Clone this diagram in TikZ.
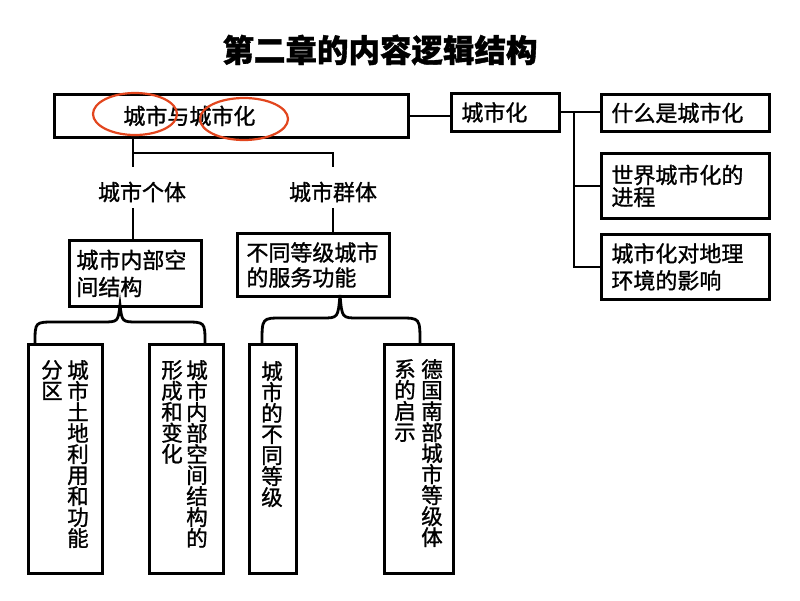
\documentclass[tikz,border=0pt]{standalone}
\usepackage{fontspec}
\setmainfont{Noto Sans CJK SC}
\newfontfamily\cjk[FakeBold=1.2]{Noto Sans CJK SC}
\definecolor{ringred}{RGB}{226,70,30}
\begin{document}
\begin{tikzpicture}[x=1pt,y=-1pt,
  box/.style={draw, line width=2.8pt, anchor=north west, align=left, inner ysep=0pt,
    font=\cjk\fontsize{22}{25}\selectfont},
  lbl/.style={inner sep=0pt, font=\cjk\fontsize{22}{25}\selectfont},
  vcol/.style={inner sep=0pt, anchor=north, align=center, font=\cjk\fontsize{21.5}{21}\selectfont},
  vbox/.style={draw, line width=2.8pt, anchor=north west, minimum height=229pt, inner sep=0pt},
  link/.style={line width=2.8pt},
  circ/.style={draw=ringred, line width=2.2pt}]
\useasboundingbox (0,0) rectangle (800,600);
% title
\node[inner sep=0pt, font=\cjk\bfseries\fontsize{31.5}{34}\selectfont] (title) at (380,50) {第二章的内容逻辑结构};
% top boxes
\node[box, text width=338pt, inner xsep=8pt, minimum height=43pt] (main) at (53,93) {\hspace*{61pt}城市与城市化};
\node[box, text width=88pt, inner xsep=10pt, minimum height=38pt] (chz) at (450,92) {城市化};
\node[box, text width=148pt, inner xsep=10pt, minimum height=37pt] (r1) at (600,93) {什么是城市化};
\node[box, text width=148pt, inner xsep=10pt, minimum height=65pt, font=\cjk\fontsize{22}{22}\selectfont] (r2) at (600,152) {世界城市化的\\进程};
\node[box, text width=148pt, inner xsep=10pt, minimum height=65pt, font=\cjk\fontsize{22}{27}\selectfont] (r3) at (600,233) {城市化对地理\\环境的影响};
% ellipses
\draw[circ] (135,114) ellipse [x radius=42, y radius=21];
\draw[circ] (244,119) ellipse [x radius=44, y radius=21];
% right tree
\coordinate (tk) at (574,112);
\draw[link] (main.east) -- (main.east -| chz.west);
\draw[link] (chz.east |- tk) -- (r1.west |- tk);
\draw[link] (tk) |- (r2.west);
\draw[link] (tk) |- (r3.west);
% left tree
\node[lbl] (ind) at (142,192) {城市个体};
\node[lbl] (grp) at (333,192) {城市群体};
\node[box, text width=118pt, inner xsep=7pt, minimum height=66pt, font=\cjk\fontsize{22}{27}\selectfont] (inner) at (68,239) {城市内部空\\间结构};
\node[box, text width=134pt, inner xsep=9pt, minimum height=63pt] (serv) at (236,232) {不同等级城市\\的服务功能};
\coordinate (ja) at (133,153);
\coordinate (jb) at (333,153);
\draw[link] (main.south -| ja) -- (ja) -- (jb) -- (333,167);
\draw[link] (ja) -- (133,167);
\draw[link] (133,208) -- (inner.north -| ja);
\draw[link] (333,208) -- (serv.north -| jb);
% bottom boxes
\node[vbox, minimum width=74pt] (b1) at (27,343) {};
\node[vbox, minimum width=74pt] (b2) at (148,343) {};
\node[vbox, minimum width=47pt] (b3) at (248,343) {};
\node[vbox, minimum width=69pt] (b4) at (383,343) {};
\node[vcol] (b1r) at (78,360) {城\\市\\土\\地\\利\\用\\和\\功\\能};
\node[vcol] (b1l) at (52,360) {分\\区};
\node[vcol] (b2r) at (197,360) {城\\市\\内\\部\\空\\间\\结\\构\\的};
\node[vcol] (b2l) at (172,360) {形\\成\\和\\变\\化};
\node[vcol] (b3c) at (272,361) {城\\市\\的\\不\\同\\等\\级};
\node[vcol] (b4r) at (432,359) {德\\国\\南\\部\\城\\市\\等\\级\\体};
\node[vcol] (b4l) at (405,359) {系\\的\\启\\示};
% braces
\coordinate (t1) at (120,305);
\coordinate (t2) at (340,295);
\draw[link] (b1.north -| 35,0) .. controls (35,322) .. (55,322) -- (102,322) .. controls (118,322) .. (t1)
  .. controls (122,322) .. (138,322) -- (185,322) .. controls (205,322) .. (b2.north -| 205,0);
\draw[link] (b3.north -| 262,0) .. controls (262,318) .. (282,318) -- (322,318) .. controls (338,318) .. (t2)
  .. controls (342,318) .. (358,318) -- (400,318) .. controls (420,318) .. (b4.north -| 420,0);
\end{tikzpicture}
\end{document}
